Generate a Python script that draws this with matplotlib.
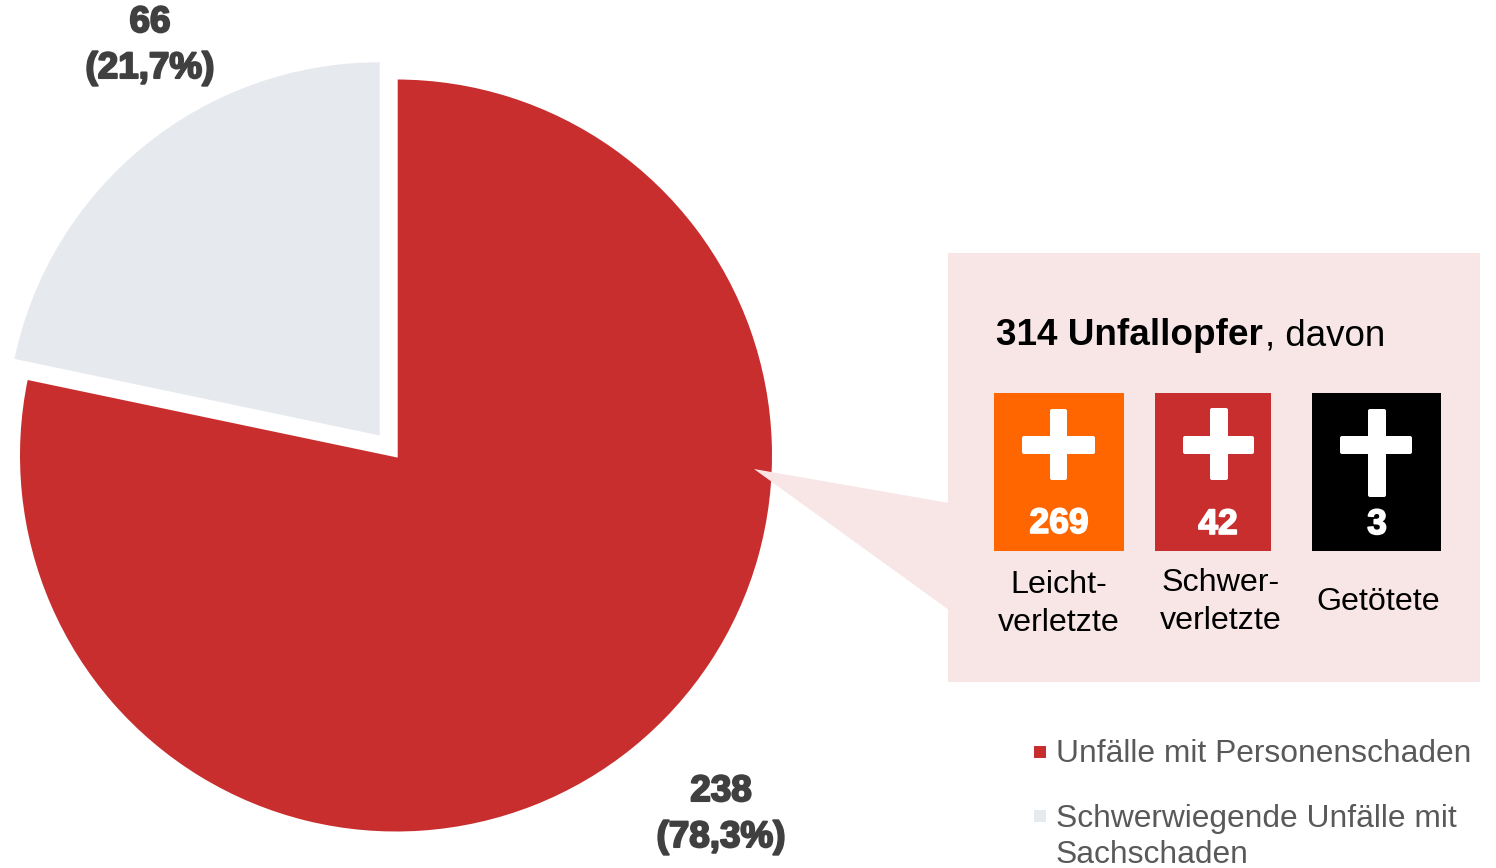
#!/usr/bin/env python3
"""Unfallzahlen: Kreisdiagramm mit Aufschluesselung der Unfallopfer."""
import matplotlib
matplotlib.use("Agg")
import matplotlib.patheffects as pe
import matplotlib.pyplot as plt
from matplotlib.patches import FancyBboxPatch, Polygon, Rectangle

W, H = 1496, 868

categories = ["Unfälle mit Personenschaden", "Schwerwiegende Unfälle mit\nSachschaden"]
accidents = [238, 66]
share_labels = ["78,3%", "21,7%"]
victim_groups = ["Leicht-\nverletzte", "Schwer-\nverletzte", "Getötete"]
victims = [269, 42, 3]

RED = "#c82e2e"
GREY = "#e6e9ee"
ORANGE = "#ff6600"
PINK = "#f8e6e7"
LABEL = "#404040"
LEGEND = "#595959"

plt.rcParams["font.family"] = ["Liberation Sans", "DejaVu Sans"]


def y_(y):
    # picture coordinates run top-down, the axes bottom-up
    return H - y


def px_rect(ax, x0, y0, x1, y1, color, zorder=3):
    ax.add_patch(Rectangle((x0, y_(y1)), x1 - x0, y1 - y0, fc=color, ec="none", zorder=zorder))


def rounded(ax, x0, y0, x1, y1):
    ax.add_patch(FancyBboxPatch((x0 + 2, y_(y1) + 2), x1 - x0 - 4, y1 - y0 - 4,
                                boxstyle="round,pad=2", fc="white", ec="none", zorder=4))


def heavy(ax, x, y, s, size, color, width=1.5):
    ax.text(x, y_(y), s, ha="center", va="baseline", fontsize=size, fontweight="bold",
            color=color, zorder=5,
            path_effects=[pe.withStroke(linewidth=width, foreground=color)])


fig = plt.figure(figsize=(W / 100, H / 100), dpi=100)
ax = fig.add_axes([0, 0, 1, 1])

# explode is in data units here, the axes run in pixels
wedges, _ = ax.pie(accidents, colors=[RED, GREY], startangle=90, counterclock=False,
                   radius=377.7, center=(396, y_(455.5)), explode=[0, 25.8],
                   wedgeprops={"linewidth": 2.45, "edgecolor": "white"})
wedges[1].set_linewidth(0)
wedges[1].set_radius(373.2)
ax.set_xlim(0, W)
ax.set_ylim(0, H)
ax.axis("off")

# Werte am Kreis
heavy(ax, 721, 801, str(accidents[0]), 26.5, LABEL)
heavy(ax, 721, 847, f"({share_labels[0]})", 26.5, LABEL)
heavy(ax, 150, 32, str(accidents[1]), 26.5, LABEL)
heavy(ax, 150, 78, f"({share_labels[1]})", 26.5, LABEL)

# Kasten mit Zeiger
px_rect(ax, 948.5, 253, 1480, 682, PINK, zorder=2)
ax.add_patch(Polygon([(754, y_(469)), (949, y_(503)), (949, y_(610))], fc=PINK, ec="none", zorder=2))

ax.text(996, y_(345), f"{sum(victims)} Unfallopfer", fontsize=26.6, fontweight="bold",
        color="black", va="baseline", zorder=5)
ax.text(1265, y_(345), ", davon", fontsize=26.5, color="black", va="baseline", zorder=5)

boxes = [(994, 1124, ORANGE), (1155, 1271, RED), (1312, 1441, "black")]
crosses = [(1022, 1095, 1050, 1067, 409, 480),
           (1183, 1254, 1210, 1228, 408, 480),
           (1340, 1412, 1368, 1386, 409, 497)]
num_x = [1059, 1218, 1377]
num_y = [533, 534, 534]
group_x = [1059, 1221, 1378]
group_y = [(593, 631), (591, 629), (610,)]

for i, (x0, x1, color) in enumerate(boxes):
    px_rect(ax, x0, 393, x1, 551, color)
    hx0, hx1, vx0, vx1, vy0, vy1 = crosses[i]
    rounded(ax, hx0, 436, hx1, 454)
    rounded(ax, vx0, vy0, vx1, vy1)
    heavy(ax, num_x[i], num_y[i], str(victims[i]), 25.5, "white", width=1.2)
    for line, yy in zip(victim_groups[i].split("\n"), group_y[i]):
        ax.text(group_x[i], y_(yy), line, ha="center", va="baseline", fontsize=23.2,
                color="black", zorder=5)

# Legende
px_rect(ax, 1034, 746, 1046, 758, RED)
px_rect(ax, 1034, 810, 1046, 822, GREY)
ax.text(1056, y_(762), categories[0], fontsize=22.9, color=LEGEND, va="baseline", zorder=5)
first, second = categories[1].split("\n")
ax.text(1056, y_(827), first, fontsize=22.9, color=LEGEND, va="baseline", zorder=5)
ax.text(1056, y_(863), second, fontsize=22.9, color=LEGEND, va="baseline", zorder=5)

fig.savefig("out.png", dpi=100)
